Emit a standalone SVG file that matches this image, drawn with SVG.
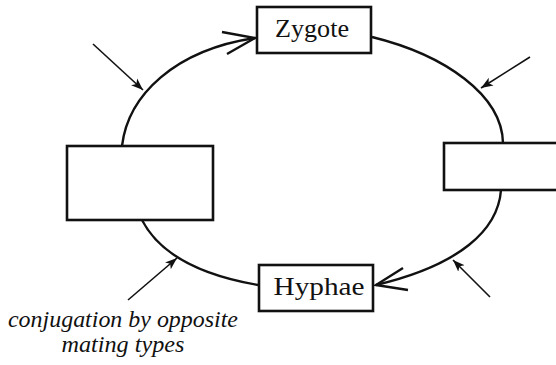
<svg xmlns="http://www.w3.org/2000/svg" width="556" height="365" viewBox="0 0 556 365">
<style>
.box{fill:#fff;stroke:#111;stroke-width:2.6}
.cyc{fill:none;stroke:#111;stroke-width:2.4}
.ptr{fill:none;stroke:#111;stroke-width:1.6}
.lbl{font-family:"Liberation Serif","DejaVu Serif",serif;font-size:25px;fill:#111;text-anchor:middle}
.cap{font-family:"Liberation Serif","DejaVu Serif",serif;font-style:italic;font-size:23px;fill:#111;text-anchor:middle}
</style>
<defs>
<marker id="tri" markerUnits="userSpaceOnUse" markerWidth="14" markerHeight="10" refX="12" refY="5" orient="auto">
<path d="M0,0.5 L12,5 L0,9.5 L3,5 z" fill="#111"/>
</marker>
</defs>
<g id="connectors">
<path class="cyc" d="M122,146 C128,95 175,50 255,38"/>
<path class="cyc" d="M222,32 L255,38 L227,54"/>
<path class="cyc" d="M372,37 C445,55 502,95 503,143"/>
<path class="cyc" d="M501,190 C498,230 460,265 376,285"/>
<path class="cyc" d="M403,268 L376,285 L408,290"/>
<path class="cyc" d="M142,220 C160,255 200,275 258,285"/>
<line class="ptr" x1="93" y1="44" x2="143" y2="90" marker-end="url(#tri)"/>
<line class="ptr" x1="530" y1="57" x2="481" y2="88" marker-end="url(#tri)"/>
<line class="ptr" x1="490" y1="297" x2="453" y2="260" marker-end="url(#tri)"/>
<line class="ptr" x1="128" y1="300" x2="177" y2="258" marker-end="url(#tri)"/>
</g>
<g id="zygote">
<rect class="box" x="257" y="7" width="114" height="46"/>
<text class="lbl" x="312" y="37" textLength="74" lengthAdjust="spacingAndGlyphs">Zygote</text>
</g>
<g id="hyphae">
<rect class="box" x="259" y="265" width="114" height="46"/>
<text class="lbl" x="319" y="295" textLength="91" lengthAdjust="spacingAndGlyphs">Hyphae</text>
</g>
<g id="left-box">
<rect class="box" x="67" y="146" width="146" height="74"/>
</g>
<g id="right-box">
<rect class="box" x="444" y="143" width="120" height="47"/>
</g>
<g id="caption">
<text class="cap" x="123" y="327" textLength="230" lengthAdjust="spacingAndGlyphs">conjugation by opposite</text>
<text class="cap" x="123" y="352" textLength="123" lengthAdjust="spacingAndGlyphs">mating types</text>
</g>
</svg>
